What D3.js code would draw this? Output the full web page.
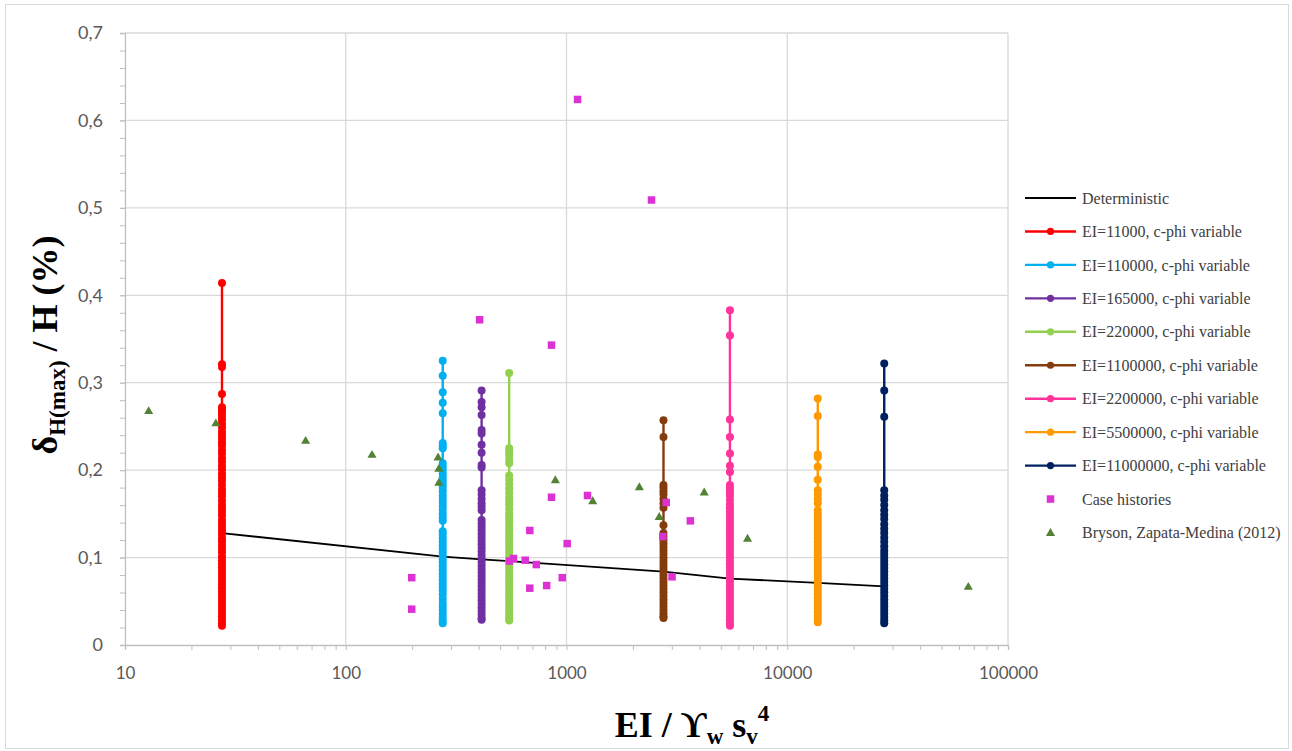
<!DOCTYPE html>
<html>
<head>
<meta charset="utf-8">
<script src="https://cdn.jsdelivr.net/npm/d3@7/dist/d3.min.js"></script>
<style>
  html, body { margin: 0; padding: 0; background: #ffffff; }
  svg { display: block; }
</style>
</head>
<body>
<script>
// ---- Data -------------------------------------------------------------
// Normalised stiffness EI / (γw sv^4) of each numerical series
const seriesNames = [
  "EI=11000, c-phi variable",
  "EI=110000, c-phi variable",
  "EI=165000, c-phi variable",
  "EI=220000, c-phi variable",
  "EI=1100000, c-phi variable",
  "EI=2200000, c-phi variable",
  "EI=5500000, c-phi variable",
  "EI=11000000, c-phi variable"
];
const seriesX = [27.5, 275, 412.5, 550, 2750, 5500, 13750, 27500];
const seriesColors = ["#ff0000", "#00b0f0", "#7030a0", "#92d050", "#843c0c", "#ff3399", "#ff9900", "#002060"];

// δH(max)/H (%) obtained with variable c-phi for each stiffness
const ei11000 = [0.414,0.321,0.318,0.287,0.272,0.269,0.266,0.262,0.258,0.253,0.249,0.244,0.240,0.236,0.232,0.228,0.223,0.219,0.214,0.210,0.205,0.201,0.196,0.192,0.188,0.183,0.178,0.174,0.170,0.165,0.160,0.156,0.152,0.148,0.143,0.139,0.135,0.131,0.127,0.122,0.118,0.114,0.110,0.106,0.101,0.097,0.093,0.089,0.085,0.081,0.077,0.073,0.069,0.065,0.061,0.057,0.053,0.049,0.045,0.041,0.037,0.033,0.029,0.025,0.022];
const ei110000 = [0.325,0.308,0.289,0.277,0.265,0.231,0.228,0.225,0.208,0.204,0.200,0.196,0.192,0.188,0.184,0.180,0.176,0.171,0.167,0.163,0.159,0.155,0.150,0.146,0.142,0.130,0.126,0.122,0.118,0.114,0.110,0.106,0.102,0.098,0.094,0.090,0.086,0.082,0.078,0.074,0.070,0.066,0.062,0.058,0.053,0.048,0.044,0.040,0.036,0.032,0.028,0.025];
const ei165000 = [0.291,0.278,0.272,0.263,0.246,0.242,0.229,0.220,0.206,0.203,0.177,0.172,0.167,0.162,0.158,0.154,0.143,0.139,0.135,0.131,0.127,0.123,0.119,0.115,0.111,0.107,0.103,0.099,0.095,0.091,0.087,0.083,0.079,0.075,0.071,0.067,0.063,0.059,0.055,0.051,0.047,0.043,0.039,0.035,0.031,0.029];
const ei220000 = [0.311,0.225,0.221,0.217,0.212,0.208,0.194,0.189,0.184,0.179,0.174,0.169,0.165,0.161,0.156,0.151,0.147,0.143,0.139,0.134,0.130,0.126,0.122,0.118,0.114,0.110,0.106,0.102,0.098,0.094,0.090,0.086,0.082,0.078,0.074,0.070,0.066,0.062,0.058,0.054,0.050,0.046,0.042,0.038,0.034,0.031,0.028];
const ei1100000 = [0.257,0.238,0.183,0.180,0.176,0.172,0.167,0.162,0.157,0.137,0.128,0.124,0.120,0.116,0.112,0.108,0.104,0.100,0.096,0.092,0.088,0.084,0.080,0.076,0.072,0.068,0.064,0.060,0.056,0.052,0.048,0.044,0.040,0.036,0.033,0.031];
const ei2200000 = [0.383,0.354,0.258,0.238,0.219,0.205,0.198,0.183,0.179,0.175,0.171,0.166,0.161,0.157,0.153,0.149,0.145,0.141,0.137,0.133,0.129,0.125,0.121,0.117,0.113,0.109,0.105,0.101,0.097,0.093,0.089,0.085,0.081,0.077,0.073,0.069,0.065,0.061,0.057,0.053,0.049,0.045,0.041,0.037,0.033,0.029,0.025,0.022];
const ei5500000 = [0.282,0.262,0.218,0.215,0.204,0.189,0.177,0.172,0.167,0.162,0.154,0.150,0.146,0.142,0.138,0.134,0.130,0.126,0.122,0.118,0.114,0.110,0.106,0.102,0.098,0.094,0.090,0.086,0.082,0.078,0.074,0.070,0.066,0.062,0.058,0.054,0.050,0.046,0.042,0.038,0.034,0.030,0.026];
const ei11000000 = [0.322,0.291,0.261,0.177,0.171,0.166,0.160,0.154,0.149,0.144,0.138,0.133,0.128,0.123,0.118,0.113,0.108,0.104,0.100,0.096,0.092,0.088,0.084,0.080,0.076,0.072,0.068,0.064,0.060,0.056,0.052,0.048,0.044,0.040,0.036,0.032,0.028,0.025];
const seriesValues = [ei11000, ei110000, ei165000, ei220000, ei1100000, ei2200000, ei5500000, ei11000000];

// Deterministic analysis
const detX = [27.5, 275, 412.5, 550, 2750, 5500, 13750, 27500];
const detY = [0.128, 0.101, 0.098, 0.096, 0.084, 0.076, 0.071, 0.067];

// Case histories
const caseX = [1122, 2427, 404, 855, 855, 1245, 2830, 3640, 2730, 3007, 682, 1007, 552, 575, 650, 730, 682, 813, 957, 199, 199];
const caseY = [0.624, 0.509, 0.372, 0.343, 0.169, 0.171, 0.163, 0.142, 0.124, 0.078, 0.131, 0.116, 0.096, 0.099, 0.097, 0.092, 0.065, 0.068, 0.077, 0.077, 0.041];

// Bryson, Zapata-Medina (2012)
const brysonX = [12.8, 25.8, 65.8, 131.5, 262, 264, 264, 890, 1315, 2138, 4205, 2630, 6610, 66100];
const brysonY = [0.268, 0.254, 0.234, 0.218, 0.215, 0.202, 0.186, 0.189, 0.165, 0.181, 0.175, 0.147, 0.122, 0.067];

// Axis ticks
const yTicks = [0, 0.1, 0.2, 0.3, 0.4, 0.5, 0.6, 0.7];
const xTicks = [10, 100, 1000, 10000, 100000];

// ---- Layout -----------------------------------------------------------
const W = 1292, H = 751;
const plot = { left: 125, right: 1008, top: 33, bottom: 645 };

const svg = d3.select("body").append("svg").attr("width", W).attr("height", H);

// outer chart frame
svg.append("rect")
  .attr("x", 5.5).attr("y", 4.5).attr("width", 1283).attr("height", 744)
  .attr("fill", "#ffffff").attr("stroke", "#d9d9d9").attr("stroke-width", 1);

const x = d3.scaleLog().domain([10, 100000]).range([plot.left, plot.right]);
const y = d3.scaleLinear().domain([0, 0.7]).range([plot.bottom, plot.top]);

const gridColor = "#d9d9d9";
const axisColor = "#bfbfbf";
const labelFont = "Lato, 'Open Sans', sans-serif";
const serif = "'Liberation Serif', 'Times New Roman', serif";

// gridlines
const grid = svg.append("g");
grid.selectAll("line.h").data(yTicks.slice(1)).join("line")
  .attr("x1", plot.left).attr("x2", plot.right)
  .attr("y1", d => y(d)).attr("y2", d => y(d))
  .attr("stroke", gridColor).attr("stroke-width", 1.3);
grid.selectAll("line.v").data(xTicks.slice(1)).join("line")
  .attr("x1", d => x(d)).attr("x2", d => x(d))
  .attr("y1", plot.top).attr("y2", plot.bottom)
  .attr("stroke", gridColor).attr("stroke-width", 1.3);

// y axis: major + minor ticks
const decComma = d3.formatLocale({ decimal: ",", thousands: ".", grouping: [3], currency: ["", ""] });
const yFmt = v => v === 0 ? "0" : decComma.format(".1f")(v);

const yMinor = d3.range(0, 71, 2).map(v => v / 100);
const yMinorAxis = svg.append("g").attr("transform", `translate(${plot.left},0)`)
  .call(d3.axisLeft(y).tickValues(yMinor).tickSize(5).tickFormat(""));
yMinorAxis.select(".domain").remove();
yMinorAxis.selectAll(".tick line").attr("stroke", axisColor);

const yAxis = svg.append("g").attr("transform", `translate(${plot.left},0)`)
  .call(d3.axisLeft(y).tickValues(yTicks).tickSize(5).tickPadding(17).tickFormat(yFmt));
yAxis.select(".domain").attr("stroke", axisColor).attr("stroke-width", 1.3);
yAxis.selectAll(".tick line").attr("stroke", axisColor);
yAxis.selectAll(".tick text")
  .attr("fill", "#595959").style("font-family", labelFont).style("font-size", "18px");

// x axis: major + minor ticks
const xMinor = [];
for (let d = 10; d < 100000; d *= 10) for (let k = 2; k <= 9; k++) xMinor.push(d * k);
const xMinorAxis = svg.append("g").attr("transform", `translate(0,${plot.bottom})`)
  .call(d3.axisBottom(x).tickValues(xMinor).tickSize(5).tickFormat(""));
xMinorAxis.select(".domain").remove();
xMinorAxis.selectAll(".tick line").attr("stroke", axisColor);

const xAxis = svg.append("g").attr("transform", `translate(0,${plot.bottom})`)
  .call(d3.axisBottom(x).tickValues(xTicks).tickSize(5).tickPadding(17).tickFormat(d3.format("d")));
xAxis.select(".domain").attr("stroke", axisColor).attr("stroke-width", 1.3);
xAxis.selectAll(".tick line").attr("stroke", axisColor);
xAxis.selectAll(".tick text")
  .attr("fill", "#595959").style("font-family", labelFont).style("font-size", "17px");

// ---- Series -----------------------------------------------------------
const line = d3.line().x(d => x(d[0])).y(d => y(d[1]));

// deterministic curve
svg.append("path")
  .datum(detX.map((v, i) => [v, detY[i]]))
  .attr("d", line).attr("fill", "none")
  .attr("stroke", "#000000").attr("stroke-width", 1.8);

// c-phi variable series: vertical line with circle markers
seriesValues.forEach((vals, i) => {
  const pts = vals.map(v => [seriesX[i], v]);
  const g = svg.append("g");
  g.append("path").datum(pts).attr("d", line).attr("fill", "none")
    .attr("stroke", seriesColors[i]).attr("stroke-width", 2.4);
  g.selectAll("circle").data(pts).join("circle")
    .attr("cx", d => x(d[0])).attr("cy", d => y(d[1])).attr("r", 4)
    .attr("fill", seriesColors[i]);
});

// case histories (squares)
const sq = 7.5;
svg.append("g").selectAll("rect")
  .data(caseX.map((v, i) => [v, caseY[i]])).join("rect")
  .attr("x", d => x(d[0]) - sq / 2).attr("y", d => y(d[1]) - sq / 2)
  .attr("width", sq).attr("height", sq).attr("fill", "#dc32d3");

// Bryson & Zapata-Medina (triangles)
const tri = d3.symbol().type(d3.symbolTriangle).size(36);
svg.append("g").selectAll("path")
  .data(brysonX.map((v, i) => [v, brysonY[i]])).join("path")
  .attr("d", tri)
  .attr("transform", d => `translate(${x(d[0])},${y(d[1]) + 0.8})`)
  .attr("fill", "#548235");

// ---- Axis titles ------------------------------------------------------
const yTitle = svg.append("text")
  .attr("transform", "translate(57,345) rotate(-90)")
  .attr("text-anchor", "middle")
  .style("font-family", serif).style("font-weight", "bold").style("font-size", "36px")
  .attr("fill", "#000000");
yTitle.append("tspan").text("δ");
yTitle.append("tspan").attr("dy", 8).style("font-size", "23px").text("H(max)");
yTitle.append("tspan").attr("dy", -8).text(" / H (%)");

const xTitle = svg.append("text")
  .attr("x", 692).attr("y", 737)
  .attr("text-anchor", "middle")
  .style("font-family", serif).style("font-weight", "bold").style("font-size", "36px")
  .attr("fill", "#000000");
xTitle.append("tspan").text("EI / ϒ");
xTitle.append("tspan").attr("dy", 7).style("font-size", "23px").text("w");
xTitle.append("tspan").attr("dy", -7).text(" s");
xTitle.append("tspan").attr("dy", 7).style("font-size", "23px").text("v");
xTitle.append("tspan").attr("dy", -23).style("font-size", "23px").text("4");

// ---- Legend -----------------------------------------------------------
const legendItems = [{ name: "Deterministic", color: "#000000", kind: "line" }]
  .concat(seriesNames.map((n, i) => ({ name: n, color: seriesColors[i], kind: "lineMarker" })))
  .concat([{ name: "Case histories", color: "#dc32d3", kind: "square" },
           { name: "Bryson, Zapata-Medina (2012)", color: "#548235", kind: "triangle" }]);

const legend = svg.append("g").attr("transform", "translate(1025,198)");
legendItems.forEach((it, i) => {
  const g = legend.append("g").attr("transform", `translate(0,${i * 33.45})`);
  if (it.kind === "line" || it.kind === "lineMarker") {
    g.append("line").attr("x1", 0).attr("x2", 51).attr("y1", 0).attr("y2", 0)
      .attr("stroke", it.color).attr("stroke-width", it.kind === "line" ? 1.8 : 2.4);
  }
  if (it.kind === "lineMarker") {
    g.append("circle").attr("cx", 25.5).attr("cy", 0).attr("r", 3.6).attr("fill", it.color);
  }
  if (it.kind === "square") {
    g.append("rect").attr("x", 25.5 - sq / 2).attr("y", -sq / 2).attr("width", sq).attr("height", sq)
      .attr("fill", it.color);
  }
  if (it.kind === "triangle") {
    g.append("path").attr("d", tri).attr("transform", "translate(25.5,0.8)").attr("fill", it.color);
  }
  g.append("text").attr("x", 57).attr("y", 0).attr("dy", "0.35em")
    .style("font-family", serif).style("font-size", "16px")
    .attr("fill", "#404040").text(it.name);
});
</script>
</body>
</html>
